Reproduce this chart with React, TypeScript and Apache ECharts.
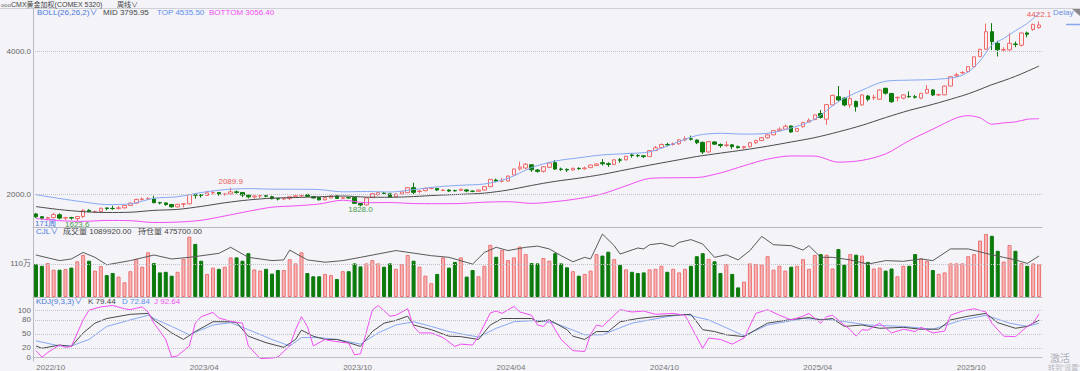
import React, { useEffect, useRef } from "react";
import * as echarts from "echarts";

// ---------- DATA ----------
// weekly candles: [open, close, low, high]
const candles: number[][] = [
  [1720,1680,1662,1735],[1682,1660,1640,1690],[1660,1668,1628,1680],[1668,1712,1660,1735],[1708,1662,1645,1730],
  [1662,1668,1635,1680],[1668,1662,1640,1680],[1655,1684,1623.6,1690],[1684,1772,1665,1787],[1771,1754,1745,1787],
  [1754,1756,1733,1765],[1756,1800,1744,1810],[1803,1798,1772,1812],[1798,1795,1778,1835],[1795,1806,1785,1833],
  [1806,1840,1797,1846],[1840,1872,1832,1880],[1872,1924,1866,1932],[1924,1930,1908,1950],[1930,1932,1916,1955],
  [1932,1878,1871,1975],[1878,1875,1855,1890],[1875,1852,1835,1880],[1852,1820,1809,1856],[1820,1856,1810,1862],
  [1856,1862,1812,1873],[1862,1993,1855,1998],[1990,1984,1935,2014],[1990,1980,1949,2000],[1980,2016,1975,2045],
  [2016,2020,1995,2048],[2020,1999,1975,2025],[1999,2000,1975,2010],[2000,2030,1995,2089.9],[2030,2022,2005,2050],
  [2022,1985,1955,2025],[1985,1960,1940,1988],[1960,1972,1935,1985],[1972,1975,1945,1985],[1975,1970,1955,1985],
  [1962,1935,1925,1975],[1935,1930,1910,1940],[1930,1935,1915,1945],[1937,1962,1915,1965],[1962,1975,1950,1990],
  [1975,1978,1960,1995],[1990,1968,1962,2002],[1963,1945,1935,1970],[1950,1918,1910,1955],[1918,1950,1910,1955],
  [1945,1972,1938,1985],[1972,1938,1930,1980],[1940,1948,1935,1960],[1948,1945,1935,1955],[1950,1869,1862,1955],
  [1866,1846,1828.0,1870],[1846,1945,1840,1950],[1950,2005,1945,2012],[1990,2020,1980,2030],[2012,2008,1995,2030],
  [2002,1960,1955,2005],[1962,2000,1955,2005],[2000,2030,1995,2035],[2019,2089,2015,2095],[2089,2023,2000,2159],
  [2035,2042,2010,2055],[2047,2079,2040,2090],[2079,2080,2065,2095],[2079,2056,2045,2085],[2050,2056,2040,2070],
  [2056,2042,2030,2065],[2048,2045,2035,2060],[2050,2068,2040,2075],[2058,2042,2025,2065],[2040,2038,2025,2050],
  [2038,2056,2030,2065],[2056,2103,2050,2108],[2103,2206,2100,2210],[2196,2180,2165,2215],[2180,2182,2160,2225],
  [2182,2252,2175,2258],[2266,2351,2260,2355],[2351,2380,2330,2454],[2365,2418,2350,2435],[2410,2340,2310,2415],
  [2337,2318,2300,2350],[2318,2383,2300,2390],[2375,2435,2370,2440],[2440,2350,2340,2477],[2350,2345,2325,2370],
  [2345,2337,2310,2360],[2337,2360,2330,2370],[2360,2355,2340,2375],[2355,2365,2340,2385],[2370,2407,2365,2412],
  [2400,2421,2395,2430],[2440,2425,2400,2490],[2425,2415,2380,2445],[2415,2480,2405,2490],[2480,2475,2440,2505],
  [2480,2530,2470,2535],[2548,2540,2510,2570],[2540,2536,2515,2560],[2536,2525,2505,2545],[2525,2610,2520,2618],
  [2610,2650,2605,2675],[2650,2695,2640,2710],[2695,2690,2670,2720],[2695,2705,2680,2725],[2705,2760,2690,2770],
  [2760,2775,2740,2810],[2775,2770,2750,2820],[2758,2720,2700,2765],[2725,2590,2560,2735],[2590,2735,2580,2745],
  [2730,2700,2690,2740],[2695,2680,2650,2710],[2680,2690,2660,2740],[2690,2665,2630,2700],[2665,2650,2640,2680],
  [2650,2665,2630,2675],[2665,2720,2655,2730],[2720,2750,2700,2760],[2750,2790,2745,2800],[2790,2830,2780,2845],
  [2830,2890,2825,2895],[2890,2910,2880,2935],[2910,2950,2900,2975],[2955,2870,2860,2960],[2880,2920,2875,2930],
  [2945,3005,2930,3010],[3010,3035,3000,3060],[3045,3110,3035,3115],[3130,3075,3060,3180],[3050,3255,2970,3260],
  [3250,3385,3240,3395],[3365,3320,3300,3515],[3345,3250,3230,3360],[3250,3340,3210,3460],[3300,3225,3156,3310],
  [3250,3390,3240,3400],[3375,3330,3300,3390],[3350,3357,3320,3395],[3330,3460,3320,3470],[3483,3415,3395,3490],
  [3410,3295,3280,3420],[3350,3357,3300,3370],[3345,3390,3330,3400],[3370,3365,3350,3440],[3365,3358,3340,3390],
  [3345,3412,3330,3420],[3415,3468,3405,3530],[3460,3390,3375,3470],[3390,3395,3375,3410],[3392,3515,3385,3520],
  [3515,3647,3510,3655],[3660,3672,3640,3700],[3700,3705,3680,3725],[3718,3787,3700,3795],[3787,3925,3780,3930],
  [3928,4030,3920,4040],[4031,4278,4020,4392],[4278,4138,4020,4398],[4115,4025,3930,4150],[4020,4026,3990,4060],
  [4023,4115,4010,4255],[4105,4100,4060,4140],[4088,4260,4070,4265],[4260,4242,4200,4280],[4310,4381,4290,4390],
  [4336,4372,4320,4422.1]
];

// weekly volume, in 万 (10k contracts)
const volume: number[] = [
  110,104,113,91,91,93,98,119,140,121,88,103,73,80,68,49,86,127,101,149,
  113,82,84,71,84,127,201,177,121,77,98,94,101,132,132,121,146,92,88,94,
  78,90,90,126,112,149,80,69,69,77,73,60,86,86,112,102,112,123,112,101,
  112,94,110,140,121,101,71,46,77,132,98,117,132,68,90,69,104,174,134,157,
  123,132,168,143,113,112,130,121,146,112,99,86,71,77,88,143,138,151,126,107,
  92,84,80,82,92,94,104,84,94,82,94,104,136,146,127,119,80,110,77,32,
  51,112,110,108,136,91,104,88,101,104,126,94,140,143,141,95,160,108,143,141,
  138,117,95,98,88,95,69,104,104,143,129,121,90,77,82,112,112,112,136,143,
  188,210,204,154,118,173,154,113,104,112,108.992
];

// open interest (持仓量), in 万, read at [week index, value]
const openInterest: number[][] = [
  [0,48.0],[4,45.6],[6,46.3],[8,49.1],[10,47.0],[12,43.8],[16,45.6],[20,48.0],[23,46.3],[26,47.0],
  [31,48.7],[33,51.3],[36,47.0],[40,45.6],[42,45.9],[43,50.1],[46,45.9],[49,44.9],[52,45.6],[55,47.0],
  [61,49.9],[67,47.7],[70,47.0],[74,44.1],[76,49.1],[78,51.3],[80,49.9],[83,51.3],[85,51.8],[87,50.6],
  [89,47.7],[91,45.1],[93,47.0],[94,46.3],[96,57.0],[98,52.0],[99,48.4],[102,51.0],[103,50.6],[104,52.4],
  [106,53.0],[108,51.6],[109,53.4],[111,54.6],[113,52.7],[115,47.0],[117,48.1],[119,45.9],[121,49.9],[123,56.0],
  [125,52.4],[128,52.0],[130,50.1],[131,52.0],[133,47.0],[135,47.0],[138,45.9],[141,44.1],[144,45.6],[147,45.3],
  [150,46.3],[152,45.6],[155,50.6],[158,50.6],[161,48.7],[164,47.0],[166,45.9],[168,44.4],[170,47.57]
];

// BOLL(26,26,2) lines read at these week indices
const bollIdx: number[] = [0,4,8,12,16,20,24,28,32,36,40,44,48,52,56,60,64,68,72,76,80,84,88,92,96,100,104,108,112,116,120,124,128,132,136,140,144,148,152,156,158,160,162,164,166,168,170];
const bollMid: number[] = [1823.5,1781.3,1752.4,1740.5,1744.1,1770.3,1784,1825.7,1876.8,1916.5,1941.6,1950.7,1961.2,1971.8,1956.6,1954.4,1964,1982.7,1995.3,2012.8,2055.9,2120.2,2177.5,2222.2,2275.5,2341.1,2405.2,2465.8,2526,2573.6,2619.1,2671,2730.2,2791.3,2872.3,2964.2,3073,3173.8,3258.7,3354.3,3406.1,3468.6,3534.4,3590.6,3652.1,3721.9,3795.95];
const bollTop: number[] = [1990,1937,1889,1852,1862,1940,1962,2020,2061,2076,2068,2067,2062,2031,2035,2028,2062,2101,2123,2141,2220,2372,2462,2508,2549,2567,2592,2704,2821,2852,2841,2852,2927,3051,3297,3457,3583,3598,3607,3641,3713,3868,4089,4183,4292,4395,4535.5];
const bollBottom: number[] = [1657,1626,1616,1629,1626,1600,1606,1631,1692,1757,1815,1834,1860,1913,1878,1880,1866,1864,1867,1885,1892,1869,1893,1936,2002,2115,2219,2228,2231,2296,2397,2490,2534,2532,2447,2472,2563,2750,2910,3068,3099,3069,2980,2998,3012,3049,3056.4];

// KDJ(9,3,3) lines read at [week index, value]
const kLine: number[][] = [
  [0,24],[1,19],[4,26],[6,23],[8,52],[10,73],[12,83],[16,92],[19,94],[20,80],[23,52],[25,38],[27,55],[30,76],[33,76],[34,74],
  [36,45],[39,31],[42,21],[44,38],[45,58],[47,45],[49,38],[51,38],[53,31],[55,23],[57,55],[59,73],[61,79],[63,88],[64,69],
  [67,59],[70,45],[72,44],[75,38],[77,69],[79,83],[81,83],[84,83],[85,76],[87,80],[90,59],[91,45],[93,38],[95,55],[97,55],
  [99,76],[102,83],[105,87],[108,90],[111,92],[113,59],[115,55],[117,48],[120,44],[122,59],[124,73],[128,81],[131,85],
  [133,80],[135,83],[137,66],[140,69],[143,62],[147,64],[150,60],[153,60],[155,80],[158,88],[161,94],[163,74],[166,62],
  [168,66],[170,79.44]
];
const dLine: number[][] = [
  [0,35],[4,24],[6,24],[9,38],[12,66],[16,80],[19,90],[20,83],[23,66],[26,48],[30,69],[33,74],[36,59],[40,38],[43,24],
  [45,42],[48,42],[51,38],[55,28],[58,52],[61,69],[64,76],[67,66],[70,55],[75,43],[78,62],[81,76],[85,79],[88,73],[93,48],
  [96,48],[101,73],[107,87],[110,92],[114,80],[120,46],[124,69],[130,83],[135,80],[141,69],[147,66],[152,60],[157,80],
  [161,90],[165,73],[168,66],[170,72.84]
];
const jLine: number[][] = [
  [0,14],[1,0],[2,10],[4,26],[5,21],[6,23],[8,80],[9,101],[11,108],[13,111],[15,104],[16,102],[18,108],[19,97],[20,73],
  [22,38],[23,0],[24,3],[26,24],[27,73],[28,87],[30,96],[31,84],[33,77],[35,73],[36,24],[38,-3],[40,-2],[41,0],[43,24],
  [44,59],[45,87],[46,66],[47,24],[49,38],[50,35],[53,30],[54,5],[55,7],[57,101],[58,111],[60,88],[61,90],[63,104],[64,66],
  [65,52],[67,52],[69,42],[71,23],[72,28],[74,26],[75,45],[77,95],[78,99],[79,94],[81,109],[82,97],[84,90],[85,69],[86,66],
  [87,80],[89,38],[91,14],[93,12],[94,49],[95,69],[96,66],[98,90],[99,102],[101,97],[103,99],[105,92],[108,94],[110,90],
  [113,19],[114,41],[116,38],[118,28],[120,41],[122,94],[124,102],[126,90],[128,80],[130,88],[131,94],[133,73],[134,87],
  [135,90],[137,69],[138,59],[139,45],[140,59],[141,58],[143,73],[145,52],[147,60],[149,55],[150,64],[152,52],[154,56],
  [155,90],[157,99],[159,104],[161,97],[162,73],[164,45],[166,44],[168,66],[169,73],[170,92.64]
];

// axis ticks
const xTickIdx: number[] = [2, 28, 54, 80, 106, 132, 158];
const xTickLabels: string[] = ["2022/10", "2023/04", "2023/10", "2024/04", "2024/10", "2025/04", "2025/10"];
const priceTicks: number[] = [2000, 4000];
const volumeTicks: number[] = [110];
const kdjTicks: number[] = [0, 20, 50, 80, 100];

// marked extremes: [week index, price, 1 = high / 0 = low]
const extremes: number[][] = [[33, 2089.9, 1], [7, 1623.6, 0], [55, 1828.0, 0], [170, 4422.1, 1]];

// ---------- STYLE ----------
const FONT = "'Liberation Sans', 'Noto Sans CJK SC', sans-serif";
const BG = "#f3f3f8";
const UP_LINE = "#f06a6a";
const DOWN = "#0b7a0b";
const BLUE_TXT = "#4a78dc";
const TOP_BLUE = "#86a8f2";
const MAGENTA = "#f24ef2";
const AXIS = "#b8b8c2";

const n = candles.length;
const cats = candles.map((_, i) => String(i));

function txt(x: number, y: number, text: string, fill: string, size = 8, align = "left") {
  return {
    type: "text",
    x,
    y,
    silent: true,
    style: { text, fill, fontSize: size, fontFamily: FONT, align, verticalAlign: "middle", lineHeight: size },
  };
}

function dotted(values: number[]) {
  return {
    silent: true,
    symbol: ["none", "none"],
    label: { show: false },
    lineStyle: { type: "dotted", color: "#c2c2c8", width: 1 },
    data: values.map((v) => ({ yAxis: v })),
    animation: false,
  };
}

export default function App() {
  const ref = useRef<HTMLDivElement>(null);

  useEffect(() => {
    if (!ref.current) return;
    const chart = echarts.init(ref.current, undefined, { renderer: "svg" });

    const last = n - 1;
    const pairs = (idx: number[], vals: number[]) => idx.map((x, i) => [x, vals[i]]);

    const volData = volume.map((v, i) => {
      const up = candles[i][1] >= candles[i][0];
      return {
        value: v,
        itemStyle: up
          ? { color: "#f6b4b4", borderColor: "#ee7272", borderWidth: 1 }
          : { color: DOWN, borderColor: DOWN, borderWidth: 1 },
      };
    });

    const xBase = {
      type: "category",
      data: cats,
      boundaryGap: true,
      axisTick: { show: false },
      axisLine: { show: true, lineStyle: { color: AXIS, width: 1 } },
      splitLine: { show: false },
    };

    const yLabel = (customValues: number[], formatter: (v: number) => string) => ({
      customValues,
      formatter,
      fontSize: 8,
      fontFamily: FONT,
      color: "#666",
      margin: 2,
    });

    const headerY = { boll: 12.5, vol: 231.5, kdj: 301.5 };

    const option: any = {
      animation: false,
      backgroundColor: BG,
      grid: [
        { left: 33, right: 38, top: 9, height: 218 },
        { left: 33, right: 38, top: 227, height: 70 },
        { left: 33, right: 38, top: 298, height: 65 },
      ],
      xAxis: [
        { ...xBase, gridIndex: 0, axisLabel: { show: false } },
        { ...xBase, gridIndex: 1, axisLabel: { show: false } },
        {
          ...xBase,
          gridIndex: 2,
          axisLabel: {
            show: true,
            interval: (idx: number) => xTickIdx.indexOf(idx) >= 0,
            formatter: (_v: string, idx: number) => {
              const k = xTickIdx.indexOf(idx);
              return k >= 0 ? xTickLabels[k] : "";
            },
            fontSize: 8,
            fontFamily: FONT,
            color: "#777",
            margin: 2,
            padding: [0, 0, 0, 6],
          },
        },
      ],
      yAxis: [
        {
          type: "value",
          gridIndex: 0,
          min: 1537,
          max: 4596.5,
          axisLine: { show: true, lineStyle: { color: AXIS } },
          axisTick: { show: false },
          splitLine: { show: false },
          axisLabel: yLabel(priceTicks, (v) => v.toFixed(1)),
        },
        {
          type: "value",
          gridIndex: 1,
          min: 0,
          max: 233.33,
          axisLine: { show: true, lineStyle: { color: AXIS } },
          axisTick: { show: false },
          splitLine: { show: false },
          axisLabel: yLabel(volumeTicks, (v) => `${v}万`),
        },
        { type: "value", gridIndex: 1, min: 30, max: 60, show: false },
        {
          type: "value",
          gridIndex: 2,
          min: -8.33,
          max: 127.08,
          axisLine: { show: true, lineStyle: { color: AXIS } },
          axisTick: { show: false },
          splitLine: { show: false },
          axisLabel: yLabel(kdjTicks, (v) => String(v)),
        },
      ],
      series: [
        {
          type: "candlestick",
          xAxisIndex: 0,
          yAxisIndex: 0,
          data: candles,
          barWidth: 4,
          itemStyle: {
            color: "#f7eef2",
            color0: DOWN,
            borderColor: UP_LINE,
            borderColor0: DOWN,
            borderWidth: 1,
          },
          markLine: dotted(priceTicks),
          markPoint: {
            symbol: "circle",
            symbolSize: 1,
            itemStyle: { color: "rgba(0,0,0,0)" },
            animation: false,
            data: extremes.map(([i, v, hi]) => ({
              coord: [String(i), v],
              value: v,
              label: {
                show: true,
                position: hi ? "top" : "bottom",
                distance: hi ? 2 : 0,
                offset: hi ? [0, 0] : [0, -1],
                formatter: v.toFixed(1),
                color: hi ? "#f05a5a" : "#4a9a4a",
                fontSize: 8,
                lineHeight: 8,
                fontFamily: FONT,
              },
            })),
          },
        },
        {
          type: "line",
          xAxisIndex: 0,
          yAxisIndex: 0,
          data: pairs(bollIdx, bollTop),
          symbol: "none",
          smooth: 0.3,
          lineStyle: { color: TOP_BLUE, width: 1 },
          silent: true,
        },
        {
          type: "line",
          xAxisIndex: 0,
          yAxisIndex: 0,
          data: pairs(bollIdx, bollMid),
          symbol: "none",
          smooth: 0.3,
          lineStyle: { color: "#4a4a4a", width: 1 },
          silent: true,
        },
        {
          type: "line",
          xAxisIndex: 0,
          yAxisIndex: 0,
          data: pairs(bollIdx, bollBottom),
          symbol: "none",
          smooth: 0.3,
          lineStyle: { color: MAGENTA, width: 1 },
          silent: true,
        },
        {
          type: "bar",
          xAxisIndex: 1,
          yAxisIndex: 1,
          data: volData,
          barWidth: 4,
          markLine: dotted(volumeTicks),
        },
        {
          type: "line",
          xAxisIndex: 1,
          yAxisIndex: 2,
          data: openInterest,
          symbol: "none",
          lineStyle: { color: "#5a5a5a", width: 1 },
          silent: true,
        },
        {
          type: "line",
          xAxisIndex: 2,
          yAxisIndex: 3,
          data: dLine,
          symbol: "none",
          lineStyle: { color: TOP_BLUE, width: 1 },
          silent: true,
          markLine: dotted(kdjTicks),
        },
        {
          type: "line",
          xAxisIndex: 2,
          yAxisIndex: 3,
          data: kLine,
          symbol: "none",
          lineStyle: { color: "#4a4a4a", width: 1 },
          silent: true,
        },
        {
          type: "line",
          xAxisIndex: 2,
          yAxisIndex: 3,
          data: jLine,
          symbol: "none",
          lineStyle: { color: MAGENTA, width: 1 },
          silent: true,
        },
      ],
      graphic: [
        { type: "line", silent: true, shape: { x1: 0, y1: 8.5, x2: 1080, y2: 8.5 }, style: { stroke: "#cfcfd6", lineWidth: 1 } },
        { type: "polygon", silent: true, shape: { points: [[1072, 9], [1080, 9], [1080, 16]] }, style: { fill: "#8a8a8a" } },
        txt(1, 4.5, "ooo", "#666", 6),
        txt(11, 4.5, "CMX黄金加权(COMEX 5320)", "#444", 7),
        txt(117, 4.5, "周线∨", "#444", 7),
        txt(37, headerY.boll, "BOLL(26,26,2)∨", BLUE_TXT, 8),
        txt(103, headerY.boll, `MID ${bollMid[bollMid.length - 1].toFixed(2)}`, "#444", 8),
        txt(157, headerY.boll, `TOP ${bollTop[bollTop.length - 1].toFixed(2)}`, "#5b8ef0", 8),
        txt(209, headerY.boll, `BOTTOM ${bollBottom[bollBottom.length - 1].toFixed(2)}`, MAGENTA, 8),
        txt(35, 223, "171周", BLUE_TXT, 8),
        txt(36, headerY.vol, "CJL∨", BLUE_TXT, 8),
        txt(63, headerY.vol, `成交量 ${(volume[last] * 10000).toFixed(2)}`, "#444", 8),
        txt(138, headerY.vol, `持仓量 ${(openInterest[openInterest.length - 1][1] * 10000).toFixed(2)}`, "#444", 8),
        txt(36, headerY.kdj, "KDJ(9,3,3)∨", BLUE_TXT, 8),
        txt(88, headerY.kdj, `K ${kLine[kLine.length - 1][1].toFixed(2)}`, "#444", 8),
        txt(122, headerY.kdj, `D ${dLine[dLine.length - 1][1].toFixed(2)}`, "#5b8ef0", 8),
        txt(154, headerY.kdj, `J ${jLine[jLine.length - 1][1].toFixed(2)}`, MAGENTA, 8),
        txt(1053, 12.5, "Delay", "#6a8fe0", 8),
        { type: "line", silent: true, shape: { x1: 1066, y1: 24.5, x2: 1080, y2: 24.5 }, style: { stroke: "#8aa6ee", lineWidth: 1.5 } },
        txt(1050, 358, "激活", "#b0b0b8", 10),
        txt(1048, 367.5, "转到\u201c设置\u201d", "#b8b8c0", 7),
      ],
    };

    chart.setOption(option);
    return () => chart.dispose();
  }, []);

  return (
    <div
      ref={ref}
      style={{ position: "fixed", left: 0, top: 0, width: 1080, height: 371, background: BG }}
    />
  );
}
